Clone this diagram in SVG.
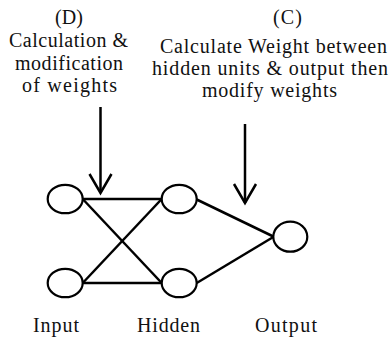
<svg xmlns="http://www.w3.org/2000/svg" width="391" height="339" viewBox="0 0 391 339">
<style>
  .t { font-family: 'Liberation Serif', 'Times New Roman', Times, serif; font-size: 20px; fill: #111; }
  .node { fill: #fff; stroke: #000; stroke-width: 2.2; }
  .edge { stroke: #000; stroke-width: 2.5; fill: none; }
  .arrow { stroke: #000; stroke-width: 2.5; fill: none; marker-end: url(#vhead); }
</style>
<defs>
  <marker id="vhead" markerUnits="userSpaceOnUse" viewBox="-25 -15 30 30" markerWidth="30" markerHeight="30" refX="0" refY="0" orient="auto" overflow="visible">
    <path d="M-19,-11 L0,0 L-19,11" fill="none" stroke="#000" stroke-width="2.5"/>
  </marker>
</defs>
<rect width="391" height="339" fill="#fff"/>

<g id="label-D">
  <text class="t" x="55" y="24" textLength="28" lengthAdjust="spacing">(D)</text>
  <text class="t" x="9" y="47" textLength="119" lengthAdjust="spacing">Calculation &amp;</text>
  <text class="t" x="15" y="70" textLength="108" lengthAdjust="spacing">modification</text>
  <text class="t" x="22" y="92" textLength="95" lengthAdjust="spacing">of weights</text>
</g>
<g id="label-C">
  <text class="t" x="273" y="24" textLength="29" lengthAdjust="spacing">(C)</text>
  <text class="t" x="160" y="53" textLength="227" lengthAdjust="spacing">Calculate Weight between</text>
  <text class="t" x="152" y="75" textLength="236" lengthAdjust="spacing">hidden units &amp; output then</text>
  <text class="t" x="202" y="97" textLength="135" lengthAdjust="spacing">modify weights</text>
</g>

<g id="connectors">
  <line class="edge" x1="82.7" y1="199" x2="161.7" y2="199"/>
  <line class="edge" x1="82.7" y1="283" x2="161.7" y2="283"/>
  <line class="edge" x1="82.7" y1="199" x2="161.7" y2="283"/>
  <line class="edge" x1="82.7" y1="283" x2="161.7" y2="199"/>
  <line class="edge" x1="196.7" y1="199.5" x2="273.3" y2="236.5"/>
  <line class="edge" x1="196.7" y1="283" x2="273.3" y2="237"/>
  <line class="arrow" x1="100.5" y1="107" x2="100.5" y2="193"/>
  <line class="arrow" x1="245" y1="124" x2="245" y2="203"/>
</g>

<g id="input-1"><ellipse class="node" cx="65.2" cy="199" rx="17.5" ry="14.2"/></g>
<g id="input-2"><ellipse class="node" cx="65.2" cy="283" rx="17.5" ry="14.2"/></g>
<g id="hidden-1"><ellipse class="node" cx="179.2" cy="199" rx="17.5" ry="14.2"/></g>
<g id="hidden-2"><ellipse class="node" cx="179.2" cy="283" rx="17.5" ry="14.2"/></g>
<g id="output-1"><ellipse class="node" cx="290.3" cy="236.7" rx="17" ry="15"/></g>

<g id="layer-labels">
  <text class="t" x="33" y="332" textLength="46" lengthAdjust="spacing">Input</text>
  <text class="t" x="137" y="332" textLength="63" lengthAdjust="spacing">Hidden</text>
  <text class="t" x="255" y="332" textLength="62" lengthAdjust="spacing">Output</text>
</g>
</svg>
